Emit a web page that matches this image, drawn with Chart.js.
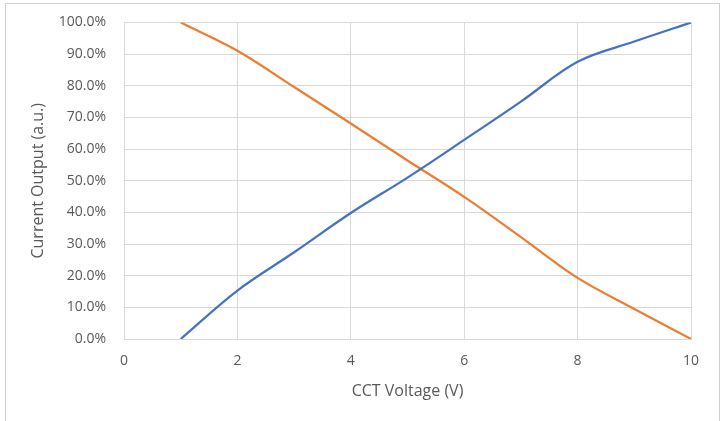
<!DOCTYPE html>
<html>
<head>
<meta charset="utf-8">
<script src="https://cdn.jsdelivr.net/npm/chart.js@4"></script>
<style>
html,body{margin:0;padding:0;background:#fff;}
#wrap{position:relative;width:726px;height:421px;}
</style>
</head>
<body>
<div id="wrap"><canvas id="c" width="726" height="421"></canvas></div>
<script>
const voltages = [1, 2, 3, 4, 5, 6, 7, 8, 9, 10];
const risingOutput = [0, 15.3, 27.4, 39.8, 51.0, 62.9, 75.0, 87.6, 94.0, 100];
const fallingOutput = [100, 91.1, 79.6, 68.1, 56.4, 44.9, 32.2, 19.3, 9.5, 0];
const xTicks = [0, 2, 4, 6, 8, 10];
const xTitle = 'CCT Voltage (V)';
const yTitle = 'Current Output (a.u.)';

const toPoints = (ys) => voltages.map((v, i) => ({x: v, y: ys[i]}));
const FONT = '"Open Sans", "Liberation Sans", sans-serif';
const TXT = '#595959';
const GRID = '#d9d9d9';

const borderPlugin = {
  id: 'outerBorder',
  beforeDraw(chart) {
    const ctx = chart.ctx;
    ctx.save();
    ctx.fillStyle = '#fff';
    ctx.fillRect(0, 0, chart.width, chart.height);
    ctx.strokeStyle = '#d0d0d0';
    ctx.lineWidth = 1;
    ctx.strokeRect(5.5, 3.5, 714, 440);
    ctx.restore();
  }
};

new Chart(document.getElementById('c'), {
  type: 'scatter',
  data: {
    datasets: [
      {
        label: 'Rising',
        data: toPoints(risingOutput),
        showLine: true,
        borderColor: '#4472C4',
        backgroundColor: '#4472C4',
        borderWidth: 2.25,
        pointRadius: 0,
        tension: 0.35
      },
      {
        label: 'Falling',
        data: toPoints(fallingOutput),
        showLine: true,
        borderColor: '#ED7D31',
        backgroundColor: '#ED7D31',
        borderWidth: 2.25,
        pointRadius: 0,
        tension: 0.35
      }
    ]
  },
  plugins: [borderPlugin],
  options: {
    responsive: false,
    animation: false,
    layout: {padding: {left: 0, top: 22.5, right: 35, bottom: 0}},
    plugins: {legend: {display: false}, tooltip: {enabled: false}},
    scales: {
      x: {
        type: 'linear',
        min: 0, max: 10,
        afterBuildTicks(scale) { scale.ticks = xTicks.map(v => ({value: v})); },
        afterFit(scale) { scale.height = 82; scale.paddingLeft = 0; scale.paddingRight = 0; },
        grid: {color: GRID, lineWidth: 1, drawTicks: false},
        border: {color: GRID, width: 1},
        ticks: {
          color: TXT, padding: 14, maxRotation: 0,
          font: {family: FONT, size: 14},
          callback: (v) => String(v)
        },
        title: {
          display: true, text: xTitle, color: TXT,
          font: {family: FONT, size: 16},
          padding: {top: 0, bottom: 20}
        }
      },
      y: {
        type: 'linear',
        min: 0, max: 100,
        ticks: {
          stepSize: 10, color: TXT, padding: 18,
          font: {family: FONT, size: 14},
          callback: (v) => v.toFixed(1) + '%'
        },
        afterFit(scale) { scale.width = 124; scale.paddingTop = 0; scale.paddingBottom = 0; },
        grid: {color: GRID, lineWidth: 1, drawTicks: false},
        border: {color: GRID, width: 1},
        title: {
          display: true, text: yTitle, color: TXT,
          font: {family: FONT, size: 16},
          padding: {top: 29, bottom: 0}
        }
      }
    }
  }
});
</script>
</body>
</html>
